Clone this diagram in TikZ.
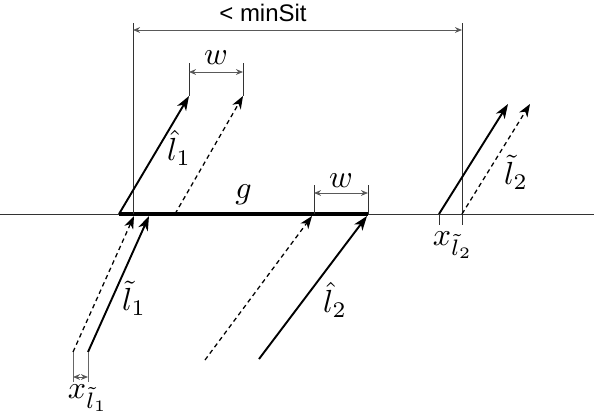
\documentclass[tikz,border=0pt]{standalone}
\usepackage{fontspec}
\newfontfamily\dimfont{Liberation Sans}
\usepackage{amsmath, amssymb}
\usetikzlibrary{arrows.meta, positioning, calc}

\tikzset{
  vecline/.style={-{Stealth[length=4.5pt, width=3.2pt, inset=1.3pt]}, line width=0.6pt},
  shiftline/.style={-{Stealth[length=4pt, width=3pt, inset=1.2pt]}, line width=0.4pt, dash pattern=on 1.4pt off 1.1pt},
  dimline/.style={{Stealth[length=2.2pt, width=1.8pt]}-{Stealth[length=2.2pt, width=1.8pt]}, line width=0.3pt, black!65},
  guideline/.style={line width=0.3pt, black!80},
}

\begin{document}
\begin{tikzpicture}[x=0.011cm, y=-0.011cm]
  \useasboundingbox (0,0) rectangle (594,415);

  % axis and gap g
  \coordinate (axL) at (0,214);
  \coordinate (axR) at (594,214);
  \coordinate (gL) at (119,214);
  \coordinate (gR) at (368,214);
  \draw[guideline] (axL) -- (axR);
  \draw[line width=1.3pt] (gL) -- (gR) node[midway, above=-1pt] (glab) {$g$};

  % minSit span
  \coordinate (msL) at (133,23);
  \coordinate (msLb) at (133,214);
  \coordinate (msR) at (462,23);
  \coordinate (msRb) at (462,225);
  \draw[guideline] (msL) -- (msLb);
  \draw[guideline] (msR) -- (msRb);
  \draw[dimline] ($(msL)+(0,7)$) coordinate (msA) -- ($(msR)+(0,7)$) coordinate (msB);
  \node[font=\dimfont\fontsize{7.5}{9}\selectfont] (mslab) at (263,13) {< minSit};

  % hat l_1 and its shift by w
  \coordinate (h1s) at (119,214);
  \coordinate (h1e) at (189,96);
  \coordinate (h1ds) at (175,214);
  \coordinate (h1de) at (243,96);
  \draw[vecline] (h1s) -- (h1e);
  \draw[shiftline] (h1ds) -- (h1de);
  \node (h1lab) at (179,148) {$\hat{l}_1$};
  \draw[guideline] (189,63) coordinate (w1L) -- (h1e);
  \draw[guideline] (243,63) coordinate (w1R) -- (h1de);
  \draw[dimline] ($(w1L)+(0,9)$) -- ($(w1R)+(0,9)$);
  \node (w1lab) at (216,58) {$w$};

  % tilde l_1 and x offset
  \coordinate (t1s) at (88,352);
  \coordinate (t1e) at (149,216);
  \coordinate (t1ds) at (73,352);
  \coordinate (t1de) at (134,216);
  \draw[vecline] (t1s) -- (t1e);
  \draw[shiftline] (t1ds) -- (t1de);
  \node (t1lab) at (134,298) {$\tilde{l}_1$};
  \draw[guideline, black!60] (t1ds) -- (73,382) coordinate (x1L);
  \draw[guideline, black!60] (t1s) -- (88,382) coordinate (x1R);
  \draw[dimline] ($(x1L)+(0,-5)$) -- ($(x1R)+(0,-5)$);
  \node (x1lab) at (88,398) {$x_{\tilde{l}_1}$};

  % hat l_2 and its shift by w
  \coordinate (h2s) at (259,359);
  \coordinate (h2e) at (367,216);
  \coordinate (h2ds) at (205,360);
  \coordinate (h2de) at (312,216);
  \draw[vecline] (h2s) -- (h2e);
  \draw[shiftline] (h2ds) -- (h2de);
  \node (h2lab) at (335,300) {$\hat{l}_2$};
  \draw[guideline] (314,185) coordinate (w2L) -- (314,214);
  \draw[guideline] (368,185) coordinate (w2R) -- (368,214);
  \draw[dimline] ($(w2L)+(0,8)$) -- ($(w2R)+(0,8)$);
  \node (w2lab) at (341,181) {$w$};

  % tilde l_2
  \coordinate (t2s) at (439,214);
  \coordinate (t2e) at (508,104);
  \coordinate (t2ds) at (462,214);
  \coordinate (t2de) at (530,104);
  \draw[vecline] (t2s) -- (t2e);
  \draw[shiftline] (t2ds) -- (t2de);
  \draw[guideline] (t2s) -- (439,225);
  \node (t2lab) at (516,172) {$\tilde{l}_2$};
  \node (x2lab) at (453,245) {$x_{\tilde{l}_2}$};
\end{tikzpicture}
\end{document}
